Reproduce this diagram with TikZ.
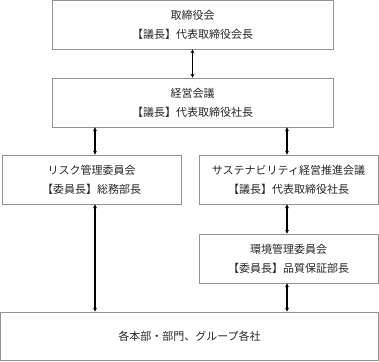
\documentclass[tikz,border=0pt]{standalone}
\usepackage{fontspec}
\setmainfont{Noto Sans CJK JP}
\usetikzlibrary{arrows.meta}
\begin{document}
\begin{tikzpicture}[x=1pt,y=-1pt,
	kaigi/.style={draw=gray!85,line width=0.6pt,text=black!85,align=center,
		font=\fontsize{11}{19}\selectfont,inner sep=0pt,minimum height=49pt},
	renraku/.style={{Stealth[length=4pt,width=4pt]}-{Stealth[length=4pt,width=4pt]},line width=1.1pt}]
	\useasboundingbox (0,0) rectangle (379,361);
	% 取締役会・経営会議
	\node[kaigi,minimum width=281pt,minimum height=48.5pt] (torishimari) at (192.5,24.75) {取締役会\\【議長】代表取締役会長};
	\node[kaigi,minimum width=281pt] (keiei) at (192.5,102.5) {経営会議\\【議長】代表取締役社長};
	% 委員会
	\node[kaigi,minimum width=179pt] (risk) at (91.5,179.5) {リスク管理委員会\\【委員長】総務部長};
	\node[kaigi,minimum width=179pt] (suishin) at (288.5,179.5) {サステナビリティ経営推進会議\\【議長】代表取締役社長};
	\node[kaigi,minimum width=179pt] (kankyo) at (288.5,258.5) {環境管理委員会\\【委員長】品質保証部長};
	% 各本部
	\node[kaigi,minimum width=378pt,minimum height=48.5pt] (kakusha) at (189.5,336.25) {各本部・部門、グループ各社};
	% 矢印
	\draw[renraku] (torishimari.south) -- (keiei.north);
	\draw[renraku] ([xshift=3.5pt]risk.north) -- ([xshift=3.5pt]risk.north |- keiei.south);
	\draw[renraku] ([xshift=-1.5pt]suishin.north) -- ([xshift=-1.5pt]suishin.north |- keiei.south);
	\draw[renraku] ([xshift=3.5pt]risk.south) -- ([xshift=3.5pt]risk.south |- kakusha.north);
	\draw[renraku] ([xshift=-1.5pt]suishin.south) -- ([xshift=-1.5pt]kankyo.north);
	\draw[renraku] ([xshift=-1.5pt]kankyo.south) -- ([xshift=-1.5pt]kankyo.south |- kakusha.north);
\end{tikzpicture}
\end{document}
